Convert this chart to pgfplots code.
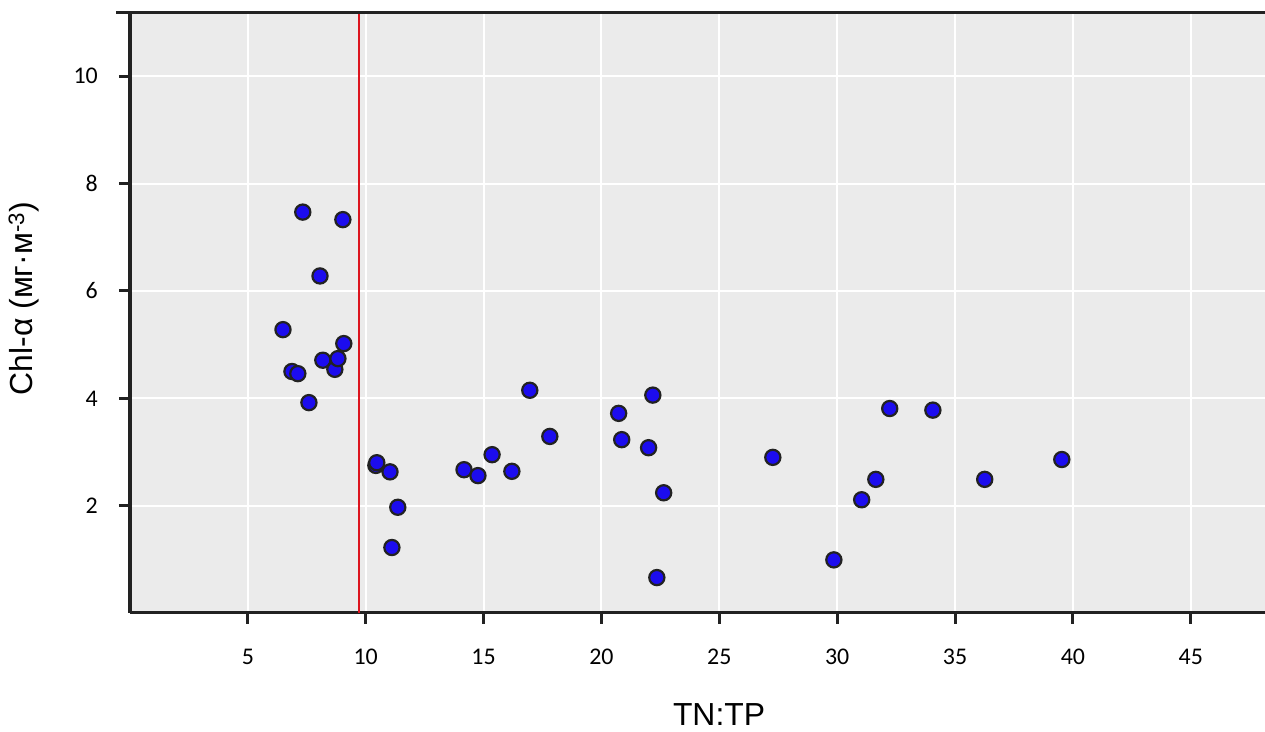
\documentclass[border=0pt]{standalone}
\usepackage{pgfplots}
\pgfplotsset{compat=1.18}
\usepackage{fontspec}
\setmainfont{Carlito}
\newfontfamily\labfont{Liberation Sans}
\definecolor{panel}{RGB}{235,235,235}
\definecolor{axc}{RGB}{34,34,34}
\definecolor{ptblue}{RGB}{28,12,238}
\definecolor{vred}{RGB}{220,20,30}
\begin{document}
\begin{tikzpicture}
\path[use as bounding box] (0,0) rectangle (1265bp,732bp);
\begin{axis}[
  at={(130bp,119bp)}, anchor=south west,
  scale only axis, width=1135bp, height=600bp,
  xmin=0, xmax=48.15, ymin=0, ymax=11.18,
  axis background/.style={fill=panel},
  axis x line*=bottom, axis y line*=left,
  axis line style={line width=3bp, color=axc, -},
  every outer x axis line/.append style={line width=3bp, color=axc},
  every outer y axis line/.append style={line width=3bp, color=axc},
  xtick={5,10,...,45}, ytick={2,4,...,10},
  tick align=outside, major tick length=11bp,
  every tick/.style={line width=3bp, color=axc},
  major tick style={line width=3bp, color=axc},
  grid=major, grid style={white, line width=2bp},
  /pgf/number format/assume math mode=true,
  ticklabel style={font=\fontsize{24}{28}\selectfont, color=black, inner sep=0pt},
  xticklabel style={anchor=north, yshift=-25bp},
  yticklabel style={anchor=east, xshift=-21bp},
  xlabel={TN:TP}, ylabel={Chl-α (мг·м\textsuperscript{-3})},
  label style={font=\labfont\fontsize{32}{36}\selectfont},
  xlabel style={at={(axis description cs:0.519,0)}, anchor=base, yshift=-112bp},
  ylabel style={at={(axis description cs:0,0.524)}, anchor=base, yshift=97bp},
  clip=false,
]
\addplot[vred, line width=2.4bp] coordinates {(9.71,0) (9.71,11.18)};
\addplot[only marks, mark=*, mark size=7.6bp, mark options={fill=ptblue, draw=axc, line width=2.2bp}] coordinates {
(6.49,5.28) (6.87,4.50) (7.12,4.46) (7.33,7.47) (7.59,3.92) (8.06,6.28)
(8.18,4.71) (8.69,4.54) (8.82,4.74) (9.03,7.33) (9.07,5.02) (10.43,2.75)
(10.47,2.80) (11.03,2.63) (11.11,1.22) (11.36,1.97) (14.17,2.67) (14.76,2.56)
(15.36,2.95) (16.20,2.64) (16.96,4.15) (17.81,3.29) (20.73,3.72) (20.86,3.23)
(22.00,3.08) (22.18,4.06) (22.35,0.66) (22.64,2.24) (27.27,2.90) (29.86,0.99)
(31.04,2.11) (31.64,2.49) (32.23,3.81) (34.06,3.78) (36.26,2.49) (39.53,2.86)
};
\end{axis}
\draw[axc, line width=3bp] (116bp,719bp) -- (1265bp,719bp);
\end{tikzpicture}
\end{document}
